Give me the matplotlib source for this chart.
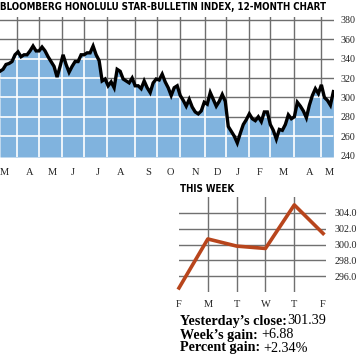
import matplotlib.pyplot as plt
import numpy as np

# 12-month index, read every few pixels off the chart (Mar .. May)
index_values = [327, 329, 334, 335, 337, 344, 347, 342, 344, 344,
                348, 353, 348, 348, 352, 348, 342, 337, 332, 321,
                332, 344, 334, 326, 332, 337, 337, 344, 344, 346,
                346, 353, 344, 338, 317, 319, 312, 316, 310, 329,
                327, 319, 317, 315, 320, 312, 312, 309, 317, 310,
                305, 315, 319, 318, 324, 316, 310, 302, 310, 312,
                302, 297, 291, 298, 290, 285, 283, 286, 295, 293,
                305, 298, 291, 296, 303, 296, 270, 265, 260, 253,
                263, 272, 277, 283, 278, 276, 280, 275, 285, 285,
                272, 266, 257, 267, 266, 272, 282, 278, 280, 295,
                291, 286, 279, 292, 302, 309, 304, 313, 300, 297,
                292, 306]
month_labels = ["M", "A", "M", "J", "J", "A", "S", "O", "N", "D", "J", "F", "M", "A", "M"]
month_label_pos = [1.4, 10.0, 17.3, 24.3, 32.7, 40.3, 49.3, 56.7, 65.0, 72.3,
                   79.0, 86.3, 94.3, 103.0, 109.7]
month_edges = [5.6, 13.1, 20.6, 28.1, 35.6, 44.8, 52.2, 59.8, 68.1, 75.2,
               82.8, 89.8, 98.0, 106.9]
index_ticks = [260, 280, 300, 320, 340, 360, 380]
label_ticks = [240, 260, 280, 300, 320, 340, 360, 380]

# this week
week_days = ["F", "M", "T", "W", "T", "F"]
week_values = [294.51, 300.7, 299.8, 299.5, 305.0, 301.39]
week_ticks = [296.0, 298.0, 300.0, 302.0, 304.0]

serif = "Liberation Serif"
narrow = ["Liberation Sans Narrow", "DejaVu Sans"]

fig = plt.figure(figsize=(3.57, 3.56), dpi=100)


def fit_text(xpix, ypix, s, width_px, size):
    t = fig.text(xpix / 357, 1 - ypix / 356, s, family=narrow, weight="bold",
                 fontsize=size, fontstretch="condensed", va="center", ha="left")
    fig.canvas.draw()
    w = t.get_window_extent().width
    t.set_fontsize(size * width_px / w)
    return t


fit_text(0, 7.5, "BLOOMBERG HONOLULU STAR-BULLETIN INDEX, 12-MONTH CHART", 325, 8.6)

# main chart
ax = fig.add_axes([0.0, 1 - 157 / 356, 334 / 357, 140 / 356])
x = np.arange(len(index_values))
ax.set_xlim(0, 111.2)
ax.set_ylim(238.5, 383)

for e in month_edges:
    ax.axvline(e, color="#6e6e6e", lw=1.0, zorder=0)
for t in index_ticks:
    ax.axhline(t, color="#6e6e6e", lw=1.0, zorder=0)

fill = ax.fill_between(x, index_values, 238.5, color="#80b3de", lw=0, zorder=1)
clip = fill.get_paths()[0]
for e in month_edges:
    ln = ax.axvline(e, color="white", lw=1.2, zorder=2)
    ln.set_clip_path(clip, ax.transData)
for t in index_ticks:
    ln = ax.axhline(t, color="white", lw=1.2, zorder=2)
    ln.set_clip_path(clip, ax.transData)

ax.plot(x, index_values, color="black", lw=2.4, zorder=3, solid_joinstyle="miter")

for s in ax.spines.values():
    s.set_visible(False)
ax.yaxis.tick_right()
ax.set_yticks(label_ticks)
ax.set_yticklabels([str(t) for t in label_ticks], family=serif, fontsize=7.2,
                   color="#222222")
ax.tick_params(axis="y", length=0, pad=5)
ax.set_xticks(month_label_pos)
ax.set_xticklabels(month_labels, family=serif, fontsize=7.5, color="#222222")
ax.tick_params(axis="x", length=0, pad=8)

# this week chart
fit_text(180, 189, "THIS WEEK", 54, 8.6)

wx = fig.add_axes([179 / 357, 1 - 292 / 356, 147 / 357, 95 / 356])
wx.set_xlim(0, 5.1)
wx.set_ylim(294.0, 306.0)
for i in range(1, 5):
    wx.axvline(i, color="#707070", lw=1.0, zorder=0)
for t in week_ticks:
    wx.axhline(t, color="#707070", lw=1.0, zorder=0)
wx.plot(range(len(week_values)), week_values, color="#b8451c", lw=2.6,
        zorder=2, clip_on=False)
for s in wx.spines.values():
    s.set_visible(False)
wx.yaxis.tick_right()
wx.set_yticks(week_ticks)
wx.set_yticklabels([f"{t:.1f}" for t in week_ticks], family=serif, fontsize=7.2,
                   color="#222222")
wx.tick_params(axis="y", length=0, pad=6)
wx.set_xticks(range(len(week_days)))
wx.set_xticklabels(week_days, family=serif, fontsize=7.5, color="#222222")
wx.tick_params(axis="x", length=0, pad=6)

stats = [("Yesterday\u2019s close:", "301.39", 321),
         ("Week\u2019s gain: ", "+6.88", 335),
         ("Percent gain: ", "+2.34%", 348)]
for label, value, ypix in stats:
    t = fig.text(180 / 357, 1 - ypix / 356, label, family=serif, weight="bold",
                 fontsize=10.2, va="center", ha="left")
    fig.canvas.draw()
    bb = t.get_window_extent()
    fig.text(bb.x1 / fig.bbox.width, 1 - ypix / 356, value, family=serif,
             fontsize=10.2, va="center", ha="left")

fig.savefig("out.png", dpi=100)
